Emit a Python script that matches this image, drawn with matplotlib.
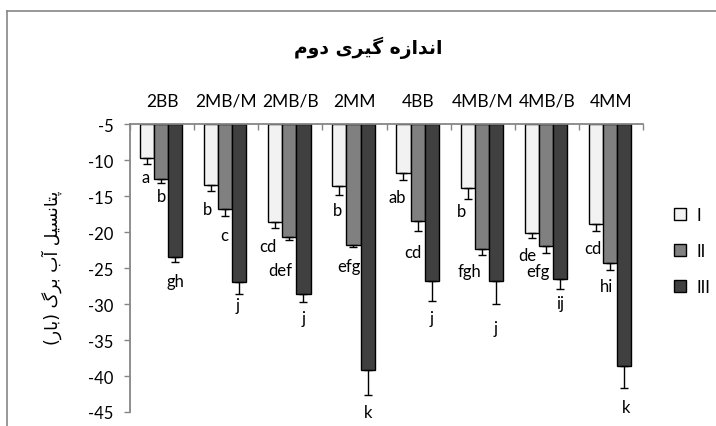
import numpy as np
import matplotlib
matplotlib.use('Agg')
import matplotlib.pyplot as plt
from matplotlib.patches import Patch
from matplotlib.lines import Line2D

categories = ['2BB', '2MB/M', '2MB/B', '2MM', '4BB', '4MB/M', '4MB/B', '4MM']
series_names = ['I', 'II', 'III']

vals_I = [-9.73, -13.54, -18.6, -13.63, -11.77, -13.86, -20.13, -18.87]
vals_II = [-12.61, -16.74, -20.68, -21.8, -18.41, -22.4, -21.89, -24.35]
vals_III = [-23.42, -26.95, -28.62, -39.2, -26.76, -26.76, -26.53, -38.55]

err_I = [0.84, 0.74, 0.88, 1.3, 0.97, 1.53, 0.74, 0.97]
err_II = [0.6, 1.07, 0.42, 0.3, 1.44, 0.79, 1.07, 0.93]
err_III = [0.79, 1.72, 1.16, 3.39, 2.83, 3.29, 1.44, 3.06]

letters_I = ['a', 'b', 'cd', 'b', 'ab', 'b', 'de', 'cd']
letters_II = ['b', 'c', 'def', 'efg', 'cd', 'fgh', 'efg', 'hi']
letters_III = ['gh', 'j', 'j', 'k', 'j', 'j', 'ij', 'k']

yticks = [-5, -10, -15, -20, -25, -30, -35, -40, -45]

title_fa = 'اندازه گیری دوم'
ylabel_fa = 'پتانسیل آب برگ (بار)'

# label nudges in pixels (dx, dy below error bar end)
nudge_I = [(-1.5, 13), (-4, 18), (-7, 18), (-2, 15), (-6, 17), (-6, 12), (-4, 17), (-3, 17)]
nudge_II = [(0, 13), (-1, 19), (-9, 30), (-5, 19), (-5, 21), (-12, 16), (-8, 18), (-3, 16)]
nudge_III = [(0.5, 19), (-2, 11), (0, 16), (0, 17), (0, 17), (0, 24), (0, 14), (2, 19)]

colors = ['#f2f2f2', '#808080', '#404040']
gray = '#868686'

# --- minimal persian shaping (matplotlib does no arabic shaping) ---
FORMS = {
    'ا': ('\uFE8D', '\uFE8E', None, None),
    'آ': ('\uFE81', '\uFE82', None, None),
    'د': ('\uFEA9', '\uFEAA', None, None),
    'ر': ('\uFEAD', '\uFEAE', None, None),
    'ز': ('\uFEAF', '\uFEB0', None, None),
    'و': ('\uFEED', '\uFEEE', None, None),
    'ب': ('\uFE8F', '\uFE90', '\uFE91', '\uFE92'),
    'پ': ('\uFB56', '\uFB57', '\uFB58', '\uFB59'),
    'ت': ('\uFE95', '\uFE96', '\uFE97', '\uFE98'),
    'س': ('\uFEB1', '\uFEB2', '\uFEB3', '\uFEB4'),
    'ل': ('\uFEDD', '\uFEDE', '\uFEDF', '\uFEE0'),
    'م': ('\uFEE1', '\uFEE2', '\uFEE3', '\uFEE4'),
    'ن': ('\uFEE5', '\uFEE6', '\uFEE7', '\uFEE8'),
    'ه': ('\uFEE9', '\uFEEA', '\uFEEB', '\uFEEC'),
    'گ': ('\uFB92', '\uFB93', '\uFB94', '\uFB95'),
    'ی': ('\uFBFC', '\uFBFD', '\uFBFE', '\uFBFF'),
}


def shape_fa(s):
    out = []
    for i, c in enumerate(s):
        if c not in FORMS:
            out.append(c)
            continue
        prev = s[i - 1] if i > 0 else ''
        nxt = s[i + 1] if i + 1 < len(s) else ''
        join_prev = prev in FORMS and FORMS[prev][2] is not None
        join_next = FORMS[c][2] is not None and nxt in FORMS
        iso, fin, ini, med = FORMS[c]
        if join_prev and join_next:
            out.append(med)
        elif join_prev:
            out.append(fin)
        elif join_next:
            out.append(ini)
        else:
            out.append(iso)
    vis = ''.join(out)[::-1]
    return vis.translate(str.maketrans('()', ')('))


plt.rcParams['font.family'] = ['Lato', 'DejaVu Sans']

fig = plt.figure(figsize=(7.16, 4.27), dpi=100)
W, H = 716, 427
ax = fig.add_axes([130 / W, 1 - 413 / H, 513 / W, 288 / H])

x = np.arange(len(categories))
width = 0.22
all_vals = [vals_I, vals_II, vals_III]
all_err = [err_I, err_II, err_III]
all_letters = [letters_I, letters_II, letters_III]
all_nudge = [nudge_I, nudge_II, nudge_III]

for k in range(3):
    xs = x + (k - 1) * width - 0.015
    v = np.array(all_vals[k])
    e = np.array(all_err[k])
    ax.bar(xs, v + 5, bottom=-5, width=width, color=colors[k],
           edgecolor='black', linewidth=1.0, zorder=2)
    ax.errorbar(xs, v, yerr=[e, np.zeros_like(e)], fmt='none', ecolor='black',
                elinewidth=1.0, capsize=3, capthick=1.0, zorder=3)
    for i in range(len(categories)):
        dx, dy = all_nudge[k][i]
        ax.annotate(all_letters[k][i], (xs[i], v[i] - e[i]),
                    xytext=(dx * 0.72, -dy * 0.72), textcoords='offset points',
                    ha='center', va='center', fontsize=12, color='black')

ax.set_xlim(-0.5, len(categories) - 0.5)
ax.set_ylim(-45, -5)
ax.set_yticks(yticks)
ax.set_yticklabels([str(t) for t in yticks], fontsize=12)
ax.tick_params(axis='y', direction='out', length=4, color=gray, width=1, pad=8)

ax.xaxis.tick_top()
ax.set_xticks(x)
ax.set_xticklabels(categories, fontsize=12.5)
ax.set_xticks(np.arange(-0.5, len(categories)), minor=True)
ax.tick_params(axis='x', which='major', length=0, pad=11)
ax.tick_params(axis='x', which='minor', direction='in', length=4, color=gray, width=1)

for side in ['right', 'bottom']:
    ax.spines[side].set_visible(False)
for side in ['left', 'top']:
    ax.spines[side].set_color(gray)
    ax.spines[side].set_linewidth(1.3)

handles = [Patch(facecolor=colors[k], edgecolor='black', linewidth=1.0, label=series_names[k])
           for k in range(3)]
fig.legend(handles=handles, loc='center left', bbox_to_anchor=(666 / W, 1 - 252 / H),
           frameon=False, fontsize=12, handlelength=0.7, handleheight=0.7,
           handletextpad=0.6, labelspacing=1.2, borderpad=0)

fig.text(368 / W, 1 - 48 / H, shape_fa(title_fa), ha='center', va='center',
         fontsize=13.5, fontweight='bold', family=['DejaVu Sans'])
fig.text(52 / W, 1 - 268 / H, shape_fa(ylabel_fa), ha='center', va='center',
         rotation=90, fontsize=12.5, family=['DejaVu Sans'])

# chart frame
fig.add_artist(Line2D([7 / W, 7 / W], [0, 1 - 12 / H], color=gray, linewidth=1.2))
fig.add_artist(Line2D([7 / W, 1], [1 - 12 / H, 1 - 12 / H], color=gray, linewidth=1.2))

fig.savefig('out.png', dpi=100)
